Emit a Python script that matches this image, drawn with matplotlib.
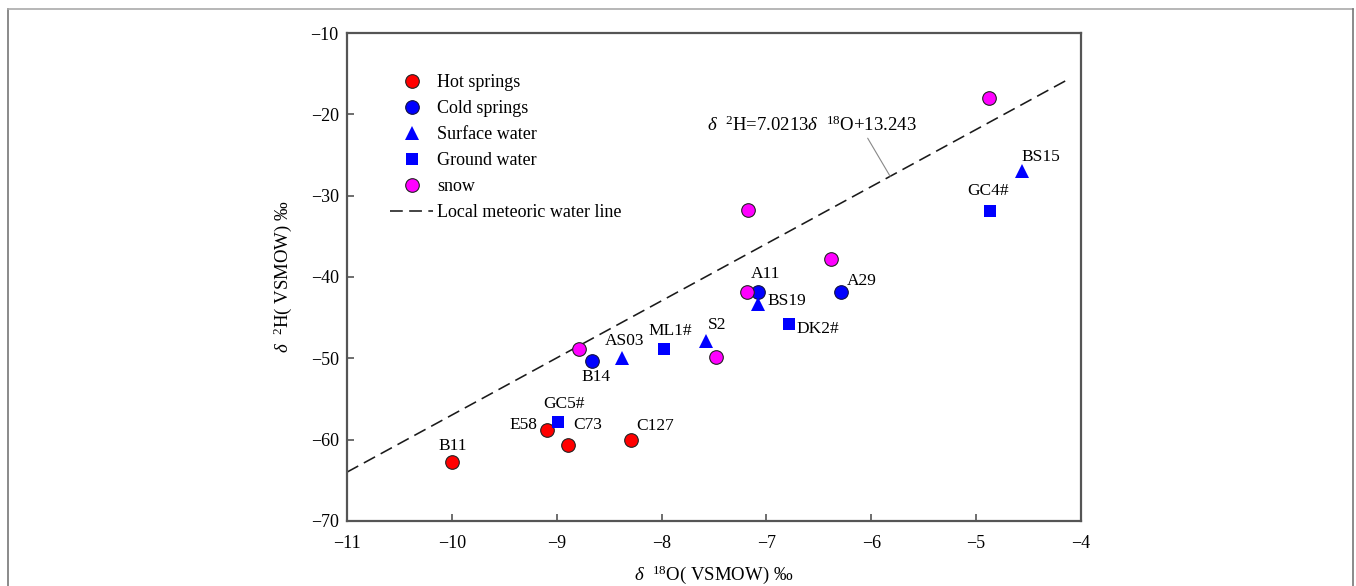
import matplotlib
matplotlib.use("Agg")
import matplotlib.pyplot as plt
import numpy as np
from matplotlib.lines import Line2D

plt.rcParams['font.family'] = ['Liberation Serif', 'DejaVu Serif']
plt.rcParams['mathtext.fontset'] = 'custom'
plt.rcParams['mathtext.rm'] = 'Liberation Serif'
plt.rcParams['mathtext.it'] = 'Liberation Serif:italic'

# data
hot_x = [-10.0, -9.09, -8.89, -8.29]
hot_y = [-62.8, -58.8, -60.7, -60.0]
hot_lab = ['B11', 'E58', 'C73', 'C127']

cold_x = [-8.66, -7.08, -6.29]
cold_y = [-50.3, -41.9, -41.8]
cold_lab = ['B14', 'A11', 'A29']

surf_x = [-8.38, -7.58, -7.08, -4.56]
surf_y = [-49.9, -47.9, -43.3, -27.0]
surf_lab = ['AS03', 'S2', 'BS19', 'BS15']

ground_x = [-8.99, -7.98, -6.78, -4.87]
ground_y = [-57.8, -48.8, -45.8, -31.85]
ground_lab = ['GC5#', 'ML1#', 'DK2#', 'GC4#']

snow_x = [-8.79, -7.48, -7.19, -7.18, -6.38, -4.88]
snow_y = [-48.9, -49.8, -41.9, -31.8, -37.8, -18.0]

slope = 7.0213
intercept = 13.243
lmwl_x = [-11.0, -4.15]

# label offsets in pixels (dx, dy up)
offsets = {
    'B11': (1, 16), 'E58': (-24, 5), 'C73': (19, 20), 'C127': (24, 14),
    'B14': (4, -16), 'A11': (7, 18), 'A29': (21, 11),
    'AS03': (3, 17), 'S2': (12, 16), 'BS19': (29, 3), 'BS15': (19, 14),
    'GC5#': (6, 18), 'ML1#': (7, 18), 'DK2#': (28, -5), 'GC4#': (-2, 20),
}

fig = plt.figure(figsize=(13.56, 5.86), dpi=100)
ax = fig.add_axes([347/1356, 1-521/586, 734/1356, 488/586])

fs = 12.5
lx = np.array(lmwl_x)
ax.plot(lx, slope*lx + intercept, color='#1a1a1a', lw=1.15, dashes=(8, 4),
        label='Local meteoric water line', zorder=2)

ax.plot(hot_x, hot_y, ls='none', marker='o', ms=9.8, mfc='#ff0000', mec='#222222', mew=0.8,
        label='Hot springs', zorder=3)
ax.plot(cold_x, cold_y, ls='none', marker='o', ms=9.8, mfc='#0000ff', mec='#111144', mew=0.8,
        label='Cold springs', zorder=3)
ax.plot(surf_x, surf_y, ls='none', marker='^', ms=10, mfc='#0000ff', mec='#0000ff', mew=0,
        label='Surface water', zorder=3)
ax.plot(ground_x, ground_y, ls='none', marker='s', ms=8, mfc='#0000ff', mec='#0000ff', mew=0,
        label='Ground water', zorder=3)
ax.plot(snow_x, snow_y, ls='none', marker='o', ms=9.8, mfc='#ff00ff', mec='#222222', mew=0.8,
        label='snow', zorder=4)

for xs, ys, labs in [(hot_x, hot_y, hot_lab), (cold_x, cold_y, cold_lab),
                     (surf_x, surf_y, surf_lab), (ground_x, ground_y, ground_lab)]:
    for x, y, t in zip(xs, ys, labs):
        dx, dy = offsets[t]
        ax.annotate(t, (x, y), xytext=(dx*0.72, dy*0.72), textcoords='offset points',
                    ha='center', va='center', fontsize=fs, zorder=5)

# equation with leader line
xa = -5.82
ax.annotate(r'$\delta$  $^{2}$H=7.0213$\delta$  $^{18}$O+13.243', xy=(xa, slope*xa + intercept),
            xytext=(-6.57, -21.4), textcoords='data', ha='center', va='center', fontsize=fs+1,
            arrowprops=dict(arrowstyle='-', color='#888888', lw=0.8, shrinkA=0, shrinkB=0,
                            relpos=(0.76, 0.0)))

handles, labels = ax.get_legend_handles_labels()
order = [1, 2, 3, 4, 5, 0]
leg = ax.legend([handles[i] for i in order], [labels[i] for i in order],
                loc='upper left', bbox_to_anchor=(43/734, (521-74)/488), frameon=False,
                fontsize=fs+0.5, borderpad=0, borderaxespad=0, handlelength=2.4,
                handletextpad=0.2, labelspacing=0.5, numpoints=1)

ax.set_xlim(-11, -4)
ax.set_ylim(-70, -10)
ax.set_xticks(np.arange(-11, -3, 1))
ax.set_yticks(np.arange(-70, -9, 10))
ax.tick_params(direction='in', length=5, width=1.2, color='#555555', labelsize=fs+0.5,
               top=False, right=False)
ax.tick_params(axis='x', pad=10)
ax.tick_params(axis='y', pad=6)
for s in ax.spines.values():
    s.set_color('#555555')
    s.set_linewidth(1.6)

ax.set_xlabel(r'$\delta$  $^{18}$O( VSMOW) ‰', fontsize=fs+1)
ax.set_ylabel(r'$\delta$  $^{2}$H( VSMOW) ‰', fontsize=fs+1)
ax.xaxis.set_label_coords(0.5, (521-575)/488)
ax.xaxis.label.set_va('center')
ax.yaxis.set_label_coords((283-347)/734, 0.5)
ax.yaxis.label.set_va('center')

# outer frame of the figure panel
fc = '#777777'
fig.add_artist(Line2D([8/1356, 8/1356], [0, 1-9/586], color=fc, lw=1.2, transform=fig.transFigure))
fig.add_artist(Line2D([8/1356, 1353/1356], [1-9/586, 1-9/586], color='#aaaaaa', lw=1.2, transform=fig.transFigure))
fig.add_artist(Line2D([1353/1356, 1353/1356], [0, 1-9/586], color=fc, lw=1.2, transform=fig.transFigure))

fig.savefig('out.png', dpi=100)
